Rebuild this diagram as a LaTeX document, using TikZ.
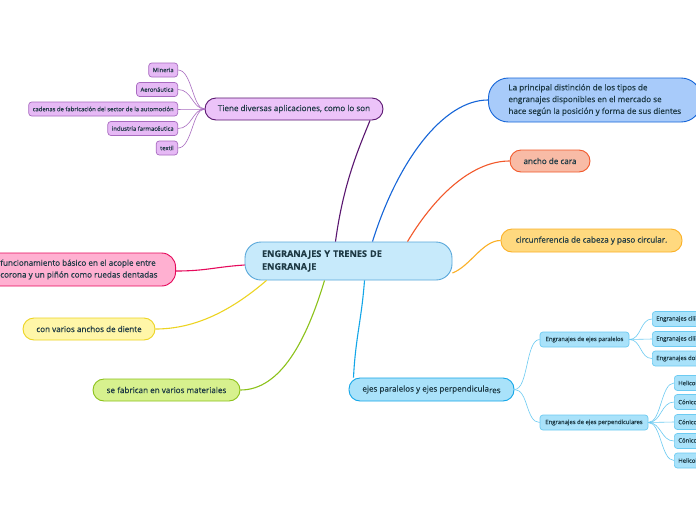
\documentclass[tikz,border=0pt]{standalone}
\usepackage{fontspec}
\setmainfont{Open Sans}[FakeBold=0.35]
\usepackage{xcolor}
\usetikzlibrary{positioning, calc}
\definecolor{ink}{HTML}{1D3944}
\definecolor{rootfill}{HTML}{C7EAFB}
\definecolor{rootline}{HTML}{5AA8DA}
\definecolor{plumline}{HTML}{5A1670}
\definecolor{plumfill}{HTML}{ECC3F9}
\definecolor{lilacfill}{HTML}{E6B9F5}
\definecolor{lilacline}{HTML}{A86BC0}
\definecolor{bluefill}{HTML}{A8CBFA}
\definecolor{blueline}{HTML}{1565D8}
\definecolor{salmonfill}{HTML}{F8BBA6}
\definecolor{salmonline}{HTML}{F2582A}
\definecolor{goldfill}{HTML}{FFD97F}
\definecolor{goldline}{HTML}{FBB026}
\definecolor{pinkfill}{HTML}{FFB0D1}
\definecolor{pinkline}{HTML}{E60A5C}
\definecolor{lemonfill}{HTML}{FFF6A8}
\definecolor{lemonline}{HTML}{EDD422}
\definecolor{limefill}{HTML}{D7F18E}
\definecolor{limeline}{HTML}{8CC21A}
\definecolor{skyfill}{HTML}{A9E2FA}
\definecolor{skyline}{HTML}{13A6E8}
\definecolor{paleline}{HTML}{6CCBF2}

\tikzset{
  topic/.style 2 args={draw=#1, fill=#2, line width=0.9pt, rounded corners=11pt,
    minimum height=22pt, inner xsep=10pt, inner ysep=2pt, text=ink,
    font=\fontsize{8.1}{11.8}\selectfont},
  leaf/.style 2 args={draw=#1, fill=#2, line width=0.7pt, rounded corners=3pt,
    minimum height=14pt, inner xsep=4pt, inner ysep=1pt, text=ink,
    font=\fontsize{5.9}{6.5}\selectfont},
  branch/.style={line width=1.1pt},
  twig/.style={line width=0.6pt},
}

\begin{document}
\begin{tikzpicture}[x=1pt, y=-1pt]
  \useasboundingbox[fill=white] (0,0) rectangle (696,520);

  % central topic
  \node[draw=rootline, fill=rootfill, line width=0.9pt, rounded corners=16pt,
        minimum height=38pt, text width=173pt, inner xsep=17pt, align=left, text=ink,
        font=\bfseries\fontsize{9.1}{12.8}\selectfont] (root) at (348.5,261)
    {ENGRANAJES Y TRENES DE\\ENGRANAJE};

  % main branches
  \node[topic={plumline}{plumfill}, minimum width=178pt] (apl) at (294,109)
    {Tiene diversas aplicaciones, como lo son};
  \node[topic={blueline}{bluefill}, anchor=west, align=left, inner xsep=20pt,
        minimum height=44pt, rounded corners=20pt] (dis) at (488,100)
    {La principal distinción de los tipos de\\engranajes disponibles en el mercado se\\hace según la posición y forma de sus dientes};
  \node[topic={salmonline}{salmonfill}, minimum width=80pt] (anc) at (550,161) {ancho de cara};
  \node[topic={goldline}{goldfill}, minimum width=181pt, minimum height=23pt] (cir) at (591.5,240.5)
    {circunferencia de cabeza y paso circular.};
  \node[topic={pinkline}{pinkfill}, anchor=east, align=left, inner xsep=18pt,
        minimum height=33pt, rounded corners=14pt] (fun) at (176,269.5)
    {funcionamiento básico en el acople entre\\corona y un piñón como ruedas dentadas};
  \node[topic={lemonline}{lemonfill}, minimum width=132pt] (con) at (89,329) {con varios anchos de diente};
  \node[topic={limeline}{limefill}, minimum width=147pt] (fab) at (166.5,390) {se fabrican en varios materiales};
  \node[topic={skyline}{skyfill}, minimum width=165pt, minimum height=23pt] (eje) at (431.5,389.5)
    {ejes paralelos y ejes perpendicula\raisebox{-1.5pt}{res}};

  % applications
  \node[leaf={lilacline}{lilacfill}, anchor=east] (min) at (178,70) {Mineria};
  \node[leaf={lilacline}{lilacfill}, anchor=east] (aer) at (178,89.5) {Aeronáutica};
  \node[leaf={lilacline}{lilacfill}, anchor=east] (cad) at (178,109) {cadenas de fabricación del sector de la automoción};
  \node[leaf={lilacline}{lilacfill}, anchor=east] (ind) at (178,128.5) {industria farmacéutica};
  \node[leaf={lilacline}{lilacfill}, anchor=east] (tex) at (178,148) {textil};

  % gear axes
  \node[leaf={paleline}{skyfill}, minimum width=89pt, minimum height=15pt] (par) at (584.5,339.5) {Engranajes de ejes paralelos};
  \node[leaf={paleline}{skyfill}, minimum width=108pt, minimum height=15pt] (per) at (594,422.5) {Engranajes de ejes perpendiculares};
  \node[leaf={paleline}{skyfill}, anchor=west, minimum height=15pt] (cr) at (652,319) {Engranajes cilíndricos rectos};
  \node[leaf={paleline}{skyfill}, anchor=west, minimum height=15pt] (ch) at (652,339) {Engranajes cilíndricos helicoidales};
  \node[leaf={paleline}{skyfill}, anchor=west, minimum height=15pt] (dh) at (652,358.5) {Engranajes doble helicoidales};
  \node[leaf={paleline}{skyfill}, anchor=west, minimum height=15pt] (hc) at (674,383) {Helicoidales cruzados};
  \node[leaf={paleline}{skyfill}, anchor=west, minimum height=15pt] (cdr) at (674,402) {Cónicos de dientes rectos};
  \node[leaf={paleline}{skyfill}, anchor=west, minimum height=15pt] (cdh) at (674,422) {Cónicos de dientes helicoidales};
  \node[leaf={paleline}{skyfill}, anchor=west, minimum height=15pt] (chi) at (674,441) {Cónicos hipoides};
  \node[leaf={paleline}{skyfill}, anchor=west, minimum height=15pt] (hts) at (674,460.5) {Helicoidales de tornillo sin fin};

  % branches from the centre
  \draw[branch, plumline] ([xshift=-13pt]root.north) .. controls +(8,-60) and +(-10,25) .. ([xshift=76pt]apl.south);
  \draw[branch, blueline] ([xshift=24pt]root.north) .. controls +(25,-80) and +(-45,0) .. (dis.west);
  \draw[branch, salmonline] ([xshift=59pt]root.north) .. controls +(30,-50) and +(-35,0) .. (anc.west);
  \draw[branch, goldline] ([yshift=-12pt]root.east) .. controls +(18,-7) and +(-18,0) .. (cir.west);
  \draw[branch, pinkline] ([yshift=-4pt]root.west) .. controls +(-30,2) and +(30,0) .. ([yshift=-1.5pt]fun.east);
  \draw[branch, lemonline] ([xshift=-82pt]root.south) .. controls +(-35,30) and +(40,0) .. (con.east);
  \draw[branch, limeline] ([xshift=-24pt]root.south) .. controls +(-18,60) and +(40,0) .. (fab.east);
  \draw[branch, skyline] ([xshift=16pt]root.south) .. controls +(-3,40) and +(2,-40) .. ([xshift=-78pt]eje.north);

  % twigs
  \foreach \leafname in {min, aer, cad, ind, tex}
    \draw[twig, lilacline] (apl.west) .. controls +(-12,0) and +(14,0) .. (\leafname.east);
  \foreach \leafname in {par, per}
    \draw[twig, paleline] (eje.east) .. controls +(14,0) and +(-14,0) .. (\leafname.west);
  \foreach \leafname in {cr, ch, dh}
    \draw[twig, paleline] (par.east) .. controls +(12,0) and +(-12,0) .. (\leafname.west);
  \foreach \leafname in {hc, cdr, cdh, chi, hts}
    \draw[twig, paleline] (per.east) .. controls +(13,0) and +(-13,0) .. (\leafname.west);
\end{tikzpicture}
\end{document}
